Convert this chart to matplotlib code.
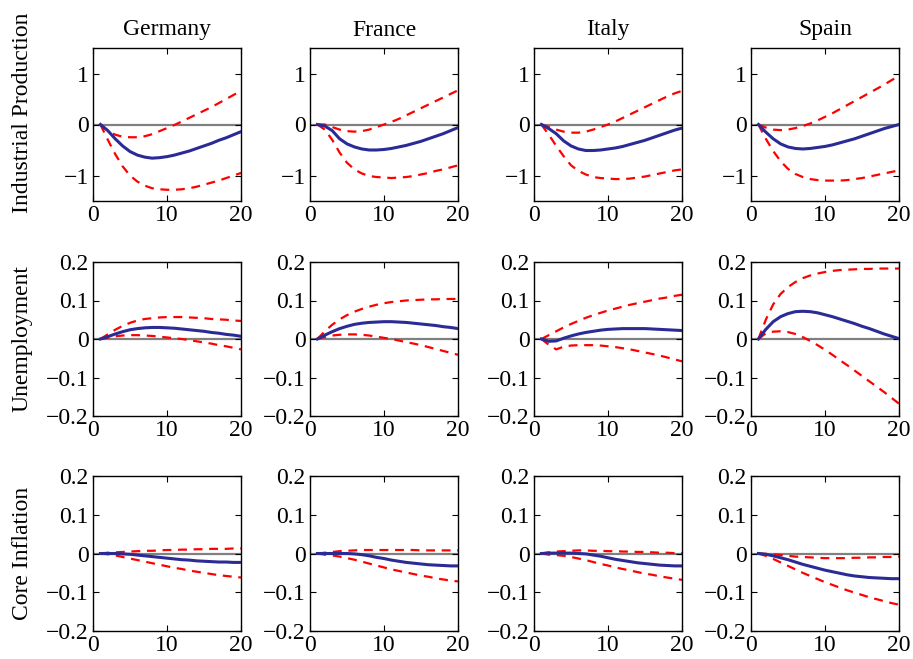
import numpy as np
import matplotlib
matplotlib.use('Agg')
import matplotlib.pyplot as plt

plt.rcParams['font.family'] = ['Liberation Serif', 'DejaVu Serif']
plt.rcParams['font.size'] = 17

countries = ['Germany', 'France', 'Italy', 'Spain']
variables = ['Industrial Production', 'Unemployment', 'Core Inflation']
horizon = np.arange(1, 21)

# Industrial Production: median, upper band, lower band
ip_de_med = [0, -0.12, -0.28, -0.42, -0.53, -0.6, -0.64, -0.66, -0.65, -0.63, -0.6, -0.56, -0.52, -0.47, -0.42, -0.37, -0.31, -0.26, -0.2, -0.14]
ip_de_up = [0, -0.12, -0.2, -0.24, -0.25, -0.25, -0.23, -0.19, -0.13, -0.07, -0.01, 0.06, 0.13, 0.2, 0.27, 0.34, 0.42, 0.5, 0.58, 0.66]
ip_de_lo = [0, -0.3, -0.58, -0.82, -1.0, -1.12, -1.2, -1.25, -1.27, -1.28, -1.28, -1.27, -1.25, -1.22, -1.18, -1.14, -1.1, -1.05, -1.0, -0.95]
ip_fr_med = [0, -0.03, -0.12, -0.28, -0.38, -0.44, -0.48, -0.5, -0.5, -0.49, -0.47, -0.44, -0.41, -0.37, -0.33, -0.28, -0.23, -0.18, -0.12, -0.06]
ip_fr_up = [0, 0.0, -0.05, -0.1, -0.13, -0.14, -0.13, -0.1, -0.05, 0.0, 0.05, 0.11, 0.18, 0.25, 0.32, 0.39, 0.46, 0.53, 0.6, 0.67]
ip_fr_lo = [0, -0.1, -0.3, -0.55, -0.75, -0.88, -0.96, -1.01, -1.03, -1.04, -1.05, -1.04, -1.03, -1.01, -0.98, -0.95, -0.91, -0.88, -0.84, -0.8]
ip_it_med = [0, -0.08, -0.18, -0.32, -0.42, -0.48, -0.51, -0.51, -0.5, -0.48, -0.46, -0.43, -0.39, -0.35, -0.31, -0.26, -0.21, -0.16, -0.11, -0.07]
ip_it_up = [0, -0.05, -0.1, -0.14, -0.16, -0.16, -0.14, -0.1, -0.05, 0.0, 0.06, 0.13, 0.2, 0.27, 0.34, 0.41, 0.48, 0.55, 0.61, 0.66]
ip_it_lo = [0, -0.2, -0.42, -0.62, -0.8, -0.91, -0.98, -1.03, -1.05, -1.06, -1.07, -1.07, -1.06, -1.04, -1.02, -0.99, -0.96, -0.93, -0.9, -0.88]
ip_es_med = [0, -0.15, -0.28, -0.38, -0.44, -0.47, -0.48, -0.47, -0.45, -0.43, -0.4, -0.36, -0.32, -0.28, -0.23, -0.18, -0.13, -0.08, -0.04, 0.0]
ip_es_up = [0, -0.06, -0.1, -0.11, -0.1, -0.07, -0.03, 0.02, 0.08, 0.15, 0.22, 0.3, 0.38, 0.46, 0.54, 0.62, 0.7, 0.78, 0.87, 0.95]
ip_es_lo = [0, -0.28, -0.52, -0.72, -0.87, -0.97, -1.03, -1.07, -1.09, -1.1, -1.1, -1.1, -1.09, -1.07, -1.05, -1.02, -0.99, -0.96, -0.93, -0.9]

# Unemployment
un_de_med = [0, 0.006, 0.013, 0.019, 0.024, 0.027, 0.029, 0.03, 0.03, 0.029, 0.028, 0.026, 0.024, 0.022, 0.02, 0.017, 0.015, 0.012, 0.01, 0.007]
un_de_up = [0, 0.012, 0.024, 0.034, 0.042, 0.048, 0.052, 0.054, 0.056, 0.057, 0.057, 0.057, 0.056, 0.055, 0.054, 0.052, 0.051, 0.05, 0.048, 0.047]
un_de_lo = [0, 0.003, 0.007, 0.009, 0.01, 0.01, 0.009, 0.008, 0.006, 0.004, 0.002, 0.0, -0.003, -0.006, -0.009, -0.012, -0.016, -0.019, -0.023, -0.027]
un_fr_med = [0, 0.01, 0.019, 0.027, 0.033, 0.038, 0.041, 0.043, 0.044, 0.045, 0.045, 0.044, 0.043, 0.041, 0.039, 0.037, 0.035, 0.032, 0.03, 0.027]
un_fr_up = [0, 0.02, 0.037, 0.051, 0.062, 0.071, 0.078, 0.084, 0.089, 0.093, 0.096, 0.098, 0.1, 0.101, 0.102, 0.103, 0.103, 0.104, 0.104, 0.104]
un_fr_lo = [0, 0.005, 0.009, 0.011, 0.012, 0.012, 0.011, 0.009, 0.006, 0.003, 0.0, -0.004, -0.008, -0.012, -0.016, -0.021, -0.026, -0.031, -0.036, -0.041]
un_it_med = [0, -0.006, -0.005, 0.002, 0.008, 0.013, 0.017, 0.02, 0.023, 0.025, 0.026, 0.027, 0.027, 0.027, 0.027, 0.026, 0.025, 0.024, 0.023, 0.022]
un_it_up = [0, 0.01, 0.02, 0.03, 0.039, 0.047, 0.055, 0.062, 0.068, 0.074, 0.079, 0.084, 0.089, 0.093, 0.097, 0.101, 0.105, 0.108, 0.112, 0.115]
un_it_lo = [0, -0.015, -0.027, -0.02, -0.017, -0.016, -0.016, -0.016, -0.017, -0.019, -0.021, -0.024, -0.027, -0.031, -0.035, -0.039, -0.043, -0.048, -0.053, -0.058]
un_es_med = [0, 0.025, 0.045, 0.058, 0.066, 0.071, 0.072, 0.071, 0.068, 0.063, 0.058, 0.052, 0.046, 0.04, 0.033, 0.027, 0.02, 0.013, 0.007, 0.001]
un_es_up = [0, 0.05, 0.09, 0.117, 0.135, 0.148, 0.158, 0.165, 0.17, 0.174, 0.177, 0.179, 0.18, 0.181, 0.182, 0.182, 0.183, 0.183, 0.183, 0.183]
un_es_lo = [0, 0.015, 0.019, 0.02, 0.018, 0.013, 0.005, -0.005, -0.016, -0.028, -0.041, -0.055, -0.068, -0.082, -0.096, -0.11, -0.124, -0.138, -0.153, -0.168]

# Core Inflation
ci_de_med = [0, 0.0, 0.0, -0.001, -0.002, -0.004, -0.006, -0.008, -0.01, -0.012, -0.014, -0.016, -0.017, -0.019, -0.02, -0.021, -0.022, -0.022, -0.023, -0.023]
ci_de_up = [0, 0.002, 0.003, 0.004, 0.005, 0.006, 0.007, 0.007, 0.008, 0.009, 0.009, 0.01, 0.01, 0.011, 0.011, 0.012, 0.012, 0.012, 0.013, 0.013]
ci_de_lo = [0, -0.002, -0.005, -0.009, -0.013, -0.017, -0.021, -0.025, -0.029, -0.033, -0.037, -0.04, -0.044, -0.047, -0.05, -0.053, -0.056, -0.058, -0.06, -0.062]
ci_fr_med = [0, 0.0, 0.0, 0.0, 0.0, -0.001, -0.003, -0.006, -0.01, -0.013, -0.017, -0.02, -0.023, -0.025, -0.027, -0.029, -0.03, -0.031, -0.032, -0.032]
ci_fr_up = [0, 0.002, 0.004, 0.006, 0.007, 0.008, 0.009, 0.009, 0.009, 0.009, 0.009, 0.009, 0.009, 0.009, 0.008, 0.008, 0.008, 0.008, 0.008, 0.008]
ci_fr_lo = [0, -0.003, -0.005, -0.008, -0.012, -0.016, -0.021, -0.026, -0.031, -0.036, -0.041, -0.045, -0.049, -0.053, -0.057, -0.06, -0.064, -0.067, -0.07, -0.072]
ci_it_med = [0, 0.001, 0.001, 0.001, 0.001, 0.0, -0.001, -0.004, -0.007, -0.011, -0.015, -0.018, -0.021, -0.024, -0.026, -0.028, -0.03, -0.031, -0.032, -0.032]
ci_it_up = [0, 0.003, 0.005, 0.006, 0.007, 0.008, 0.008, 0.007, 0.007, 0.006, 0.006, 0.005, 0.005, 0.004, 0.004, 0.003, 0.002, 0.002, 0.001, 0.001]
ci_it_lo = [0, -0.003, -0.004, -0.006, -0.009, -0.013, -0.017, -0.022, -0.027, -0.031, -0.036, -0.04, -0.044, -0.048, -0.052, -0.055, -0.059, -0.062, -0.065, -0.068]
ci_es_med = [0, -0.002, -0.006, -0.011, -0.016, -0.022, -0.028, -0.033, -0.038, -0.043, -0.047, -0.051, -0.055, -0.058, -0.06, -0.062, -0.063, -0.064, -0.065, -0.065]
ci_es_up = [0, -0.001, -0.002, -0.004, -0.006, -0.008, -0.009, -0.01, -0.011, -0.012, -0.012, -0.012, -0.012, -0.011, -0.011, -0.01, -0.01, -0.009, -0.009, -0.008]
ci_es_lo = [0, -0.006, -0.014, -0.023, -0.032, -0.041, -0.05, -0.058, -0.066, -0.074, -0.081, -0.088, -0.095, -0.101, -0.107, -0.113, -0.118, -0.123, -0.128, -0.132]

irf = [
    [(ip_de_med, ip_de_up, ip_de_lo), (ip_fr_med, ip_fr_up, ip_fr_lo),
     (ip_it_med, ip_it_up, ip_it_lo), (ip_es_med, ip_es_up, ip_es_lo)],
    [(un_de_med, un_de_up, un_de_lo), (un_fr_med, un_fr_up, un_fr_lo),
     (un_it_med, un_it_up, un_it_lo), (un_es_med, un_es_up, un_es_lo)],
    [(ci_de_med, ci_de_up, ci_de_lo), (ci_fr_med, ci_fr_up, ci_fr_lo),
     (ci_it_med, ci_it_up, ci_it_lo), (ci_es_med, ci_es_up, ci_es_lo)],
]

ylims = [(-1.5, 1.5), (-0.2, 0.2), (-0.2, 0.2)]
yticks = [[-1, 0, 1], [-0.2, -0.1, 0, 0.1, 0.2], [-0.2, -0.1, 0, 0.1, 0.2]]
yticklabels = [['\u22121', '0', '1'],
               ['\u22120.2', '\u22120.1', '0', '0.1', '0.2'],
               ['\u22120.2', '\u22120.1', '0', '0.1', '0.2']]

W, H = 913, 659
fig = plt.figure(figsize=(W / 100, H / 100), dpi=100)

col_left = [93, 310, 534, 751]
ax_w = 148
row_top = [48, 262, 476]
ax_h = [153, 154, 155]
label_y = [113, 339, 553]

for r in range(3):
    for c in range(4):
        ax = fig.add_axes([col_left[c] / W, 1 - (row_top[r] + ax_h[r]) / H,
                           ax_w / W, ax_h[r] / H])
        med, up, lo = irf[r][c]
        ax.axhline(0, color='#808080', linewidth=1.6, zorder=1)
        ax.plot(horizon, up, '--', color='#ff0000', linewidth=1.6, dashes=(4, 3), zorder=2)
        ax.plot(horizon, lo, '--', color='#ff0000', linewidth=1.6, dashes=(4, 3), zorder=2)
        ax.plot(horizon, med, '-', color='#2b2b96', linewidth=2.2, zorder=3)
        ax.set_xlim(0, 20)
        ax.set_ylim(*ylims[r])
        ax.set_xticks([0, 10, 20])
        ax.set_yticks(yticks[r])
        ax.set_yticklabels(yticklabels[r])
        ax.tick_params(direction='in', top=True, right=True, length=4,
                       width=0.8, labelsize=17, pad=3)
        for sp in ax.spines.values():
            sp.set_linewidth(1.0)
        if r == 0:
            ax.set_title(countries[c], fontsize=17, pad=9)
    fig.text(22 / W, 1 - label_y[r] / H, variables[r], rotation=90,
             ha='center', va='center', fontsize=17)

fig.savefig('out.png', dpi=100)
